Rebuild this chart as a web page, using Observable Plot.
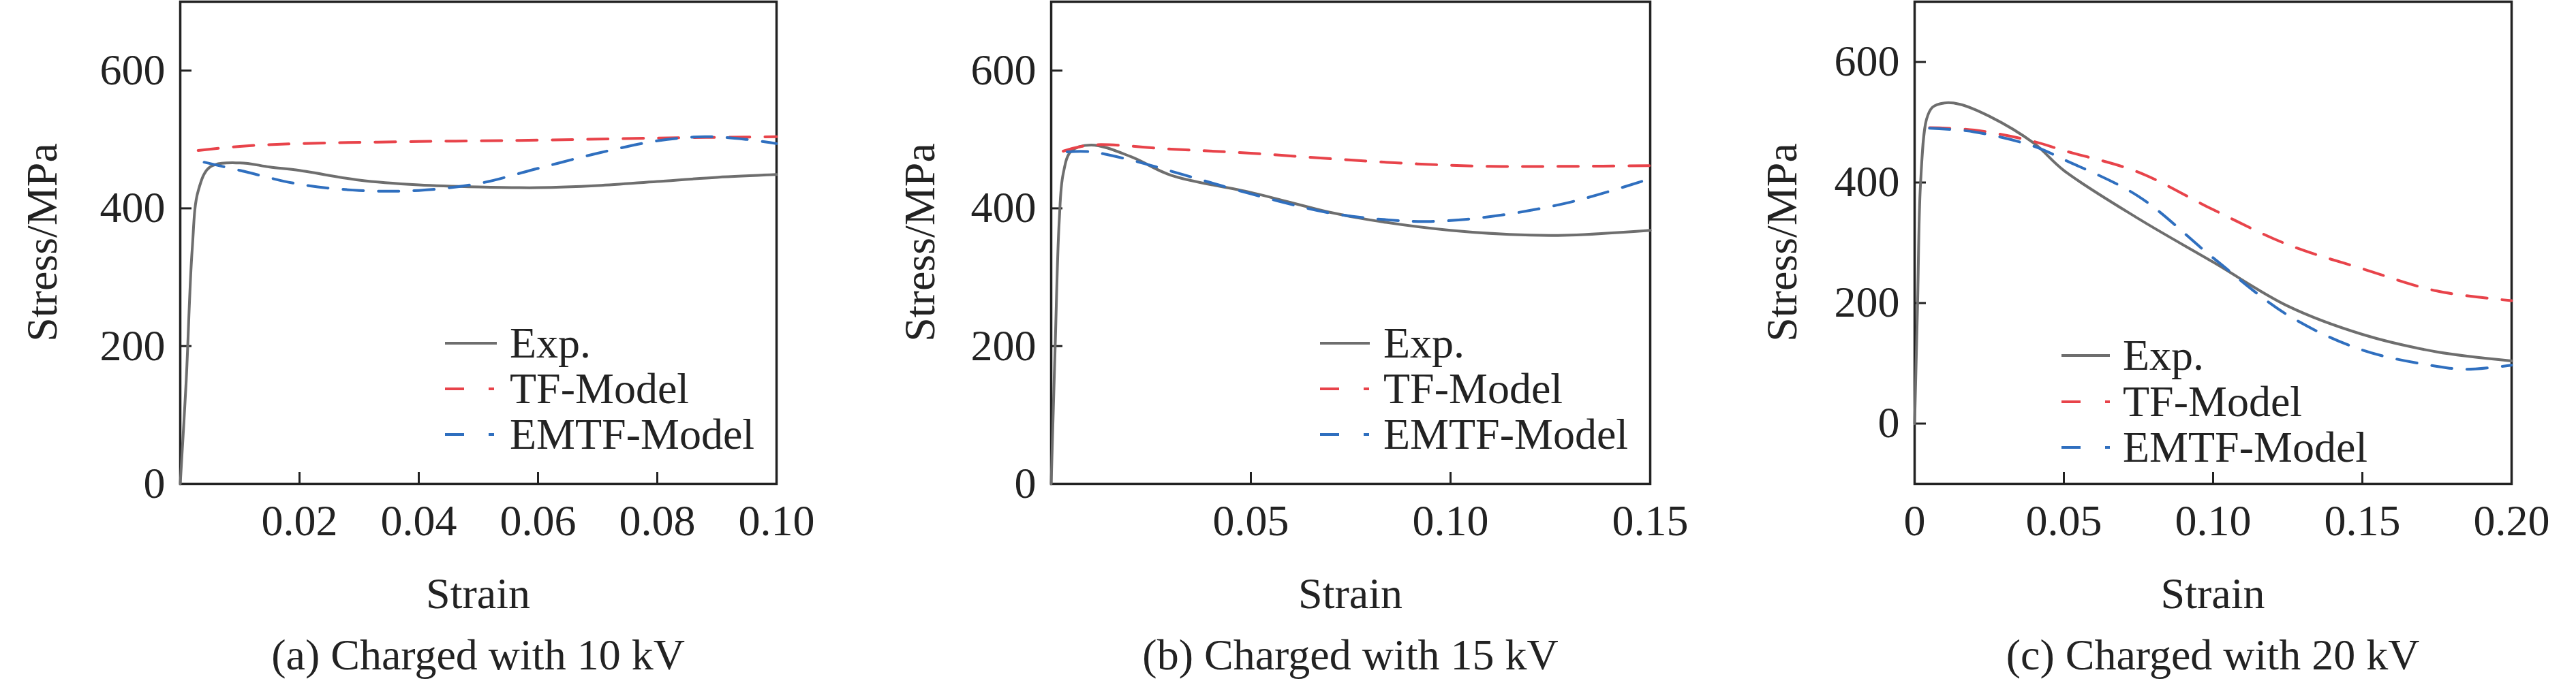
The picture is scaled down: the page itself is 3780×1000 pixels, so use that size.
<!DOCTYPE html>
<html><head><meta charset="utf-8">
<script src="https://cdn.jsdelivr.net/npm/d3@7"></script>
<script src="https://cdn.jsdelivr.net/npm/@observablehq/plot@0.6"></script>
<style>
body{margin:0;background:#fff;width:3780px;height:1000px;position:relative;overflow:hidden;font-family:"Liberation Serif",serif;color:#222}
.abs{position:absolute;white-space:nowrap;font-size:64px;line-height:1}
svg{background:transparent}
</style></head><body>
<script>
const seriesNames = ["Exp.", "TF-Model", "EMTF-Model"];
const captions = ["(a) Charged with 10 kV", "(b) Charged with 15 kV", "(c) Charged with 20 kV"];
const xTicksA = [0.02, 0.04, 0.06, 0.08, 0.10];
const xTicksB = [0.05, 0.10, 0.15];
const xTicksC = [0, 0.05, 0.10, 0.15, 0.20];
const yTicksAB = [0, 200, 400, 600];
const yTicksC = [0, 200, 400, 600];

// Panel (a) 10 kV
const expA = [[0,0],[0.001,150],[0.002,340],[0.003,425],[0.005,460],[0.01,466],[0.015,460],[0.02,455],[0.03,441],[0.04,434],[0.05,431],[0.06,430],[0.07,433],[0.08,439],[0.09,445],[0.1,449]];
const tfA = [[0.003,484],[0.01,490],[0.02,494],[0.04,497],[0.06,499],[0.08,502],[0.1,504]];
const emA = [[0.004,467],[0.01,455],[0.02,435],[0.03,426],[0.04,426],[0.05,436],[0.06,458],[0.07,480],[0.08,498],[0.088,504],[0.095,500],[0.1,494]];
// Panel (b) 15 kV
const expB = [[0,0],[0.001,200],[0.002,380],[0.003,450],[0.005,483],[0.01,492],[0.02,475],[0.03,448],[0.05,423],[0.07,394],[0.08,383],[0.1,368],[0.12,361],[0.13,361],[0.15,368]];
const tfB = [[0.003,483],[0.01,492],[0.03,486],[0.05,480],[0.07,472],[0.09,465],[0.11,461],[0.13,461],[0.15,462]];
const emB = [[0.004,482],[0.01,482],[0.02,470],[0.03,454],[0.05,421],[0.07,393],[0.085,383],[0.095,381],[0.11,388],[0.13,409],[0.15,443]];
// Panel (c) 20 kV
const expC = [[0,0],[0.001,200],[0.002,400],[0.004,505],[0.006,525],[0.01,532],[0.015,530],[0.025,510],[0.04,465],[0.05,420],[0.075,340],[0.1,268],[0.125,195],[0.15,148],[0.175,119],[0.2,104]];
const tfC = [[0.005,491],[0.02,487],[0.04,468],[0.05,453],[0.075,417],[0.1,355],[0.125,297],[0.15,257],[0.175,220],[0.2,204]];
const emC = [[0.005,490],[0.02,484],[0.04,460],[0.05,438],[0.075,377],[0.1,275],[0.125,180],[0.15,122],[0.175,95],[0.185,90],[0.2,97]];

const colors = {"Exp.":"#6e6e6e","TF-Model":"#e8434a","EMTF-Model":"#2f6fbf"};
const dash = {"Exp.":null,"TF-Model":"30,22","EMTF-Model":"30,22"};

const panels = [
  {series:[expA,tfA,emA], xd:[0,0.1], yd:[0,700], xt:xTicksA, yt:yTicksAB, fmt:d=>d.toFixed(2), left:264, right:1139, leg:{x1:653,x2:729,tx:748,ys:[504,571,638]}, ylab:62},
  {series:[expB,tfB,emB], xd:[0,0.15], yd:[0,700], xt:xTicksB, yt:yTicksAB, fmt:d=>d.toFixed(2), left:1542, right:2421, leg:{x1:1937,x2:2010,tx:2030,ys:[504,571,638]}, ylab:1350},
  {series:[expC,tfC,emC], xd:[0,0.2], yd:[-100,700], xt:xTicksC, yt:yTicksC, fmt:d=>d===0?"0":d.toFixed(2), left:2809, right:3685, leg:{x1:3025,x2:3096,tx:3115,ys:[522,590,657]}, ylab:2615}
];

const ML = 262, MR = 70, TOP = 2, BOTTOM = 710, H = 800;
panels.forEach((p, i) => {
  const fw = p.right - p.left;
  const data = [];
  p.series.forEach((s, k) => s.forEach(([x, y]) => data.push({x, y, s: seriesNames[k]})));
  const xr = p.xd[1]-p.xd[0], yr = p.yd[1]-p.yd[0];
  const tx = 17/fw*xr, ty = 17/(BOTTOM-TOP)*yr;
  const marks = [
    Plot.frame({stroke:"#222", strokeWidth:3.5}),
    Plot.ruleX(p.xt.filter(d=>d>p.xd[0] && d<p.xd[1]), {y1:p.yd[0], y2:p.yd[0]+ty, stroke:"#222", strokeWidth:3}),
    Plot.ruleY(p.yt.filter(d=>d>p.yd[0]), {x1:p.xd[0], x2:p.xd[0]+tx, stroke:"#222", strokeWidth:3}),
    Plot.axisX(p.xt, {tickSize:0, tickPadding:30, tickFormat:p.fmt, fontSize:64, label:null, fill:"#222"}),
    Plot.axisY(p.yt, {tickSize:0, tickPadding:22, fontSize:64, label:null, fill:"#222"})
  ];
  seriesNames.forEach(n => {
    marks.push(Plot.line(data.filter(d=>d.s===n), {x:"x", y:"y", stroke:colors[n], strokeWidth:4, strokeDasharray:dash[n], curve:"catmull-rom"}));
  });
  const chart = Plot.plot({
    width: ML + fw + MR, height: H,
    marginLeft: ML, marginRight: MR, marginTop: TOP, marginBottom: H - BOTTOM,
    x:{domain:p.xd}, y:{domain:p.yd},
    style:{fontFamily:"Liberation Serif, serif", background:"transparent", overflow:"visible"},
    marks
  });
  chart.style.position = "absolute";
  chart.style.left = (p.left - ML) + "px";
  chart.style.top = "0px";
  chart.style.maxWidth = "none";
  document.body.appendChild(chart);

  const cx = (p.left + p.right)/2;
  const add = (txt, css) => { const d = document.createElement("div"); d.className = "abs"; d.textContent = txt; Object.assign(d.style, css); document.body.appendChild(d); return d; };
  add("Strain", {left:cx+"px", top:"872px", transform:"translate(-50%,-50%)"});
  add(captions[i], {left:cx+"px", top:"962px", transform:"translate(-50%,-50%)"});
  add("Stress/MPa", {left:p.ylab+"px", top:"356px", transform:"translate(-50%,-50%) rotate(-90deg)"});
  // legend
  seriesNames.forEach((n, k) => {
    const y = p.leg.ys[k];
    const s = document.createElementNS("http://www.w3.org/2000/svg","svg");
    s.setAttribute("width", p.leg.x2 - p.leg.x1 + 4); s.setAttribute("height", 10);
    s.style.position = "absolute"; s.style.left = p.leg.x1 + "px"; s.style.top = (y-5) + "px";
    const l = document.createElementNS("http://www.w3.org/2000/svg","line");
    l.setAttribute("x1",0); l.setAttribute("x2",p.leg.x2-p.leg.x1); l.setAttribute("y1",5); l.setAttribute("y2",5);
    l.setAttribute("stroke",colors[n]); l.setAttribute("stroke-width",4);
    if (dash[n]) l.setAttribute("stroke-dasharray","28,36,8,40");
    s.appendChild(l); document.body.appendChild(s);
    add(n, {left:p.leg.tx+"px", top:y+"px", transform:"translateY(-50%)"});
  });
});
</script>
</body></html>
